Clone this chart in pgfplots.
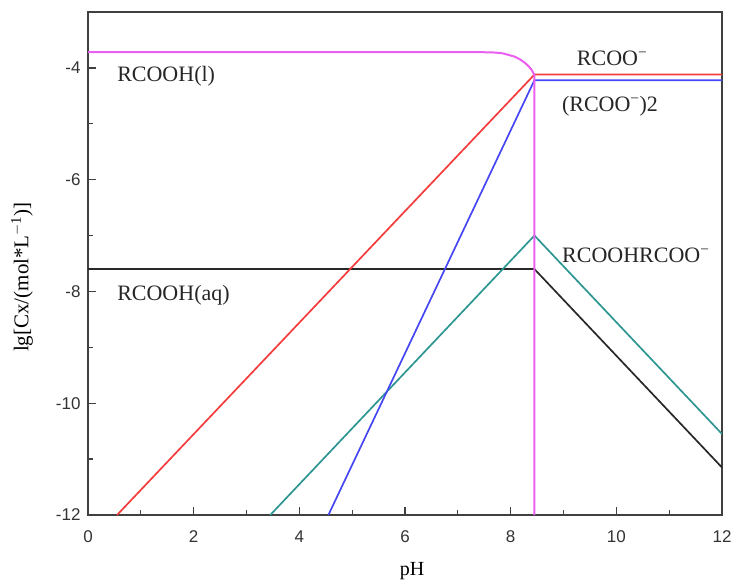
\documentclass[border=0pt]{standalone}
\usepackage{fontspec}
\setmainfont{Liberation Serif}
\newfontfamily\tickfont{Liberation Sans}
\usepackage{pgfplots}
\pgfplotsset{compat=1.18}
\definecolor{cred}{RGB}{245,60,60}
\definecolor{cblue}{RGB}{70,70,245}
\definecolor{cteal}{RGB}{45,150,145}
\definecolor{cblack}{RGB}{40,40,40}
\definecolor{cmag}{RGB}{235,95,240}
\begin{document}
\begin{tikzpicture}
\useasboundingbox (-88pt,-69pt) rectangle (643pt,515pt);
\begin{axis}[
  at={(0,0)}, anchor=south west,
  scale only axis, width=634pt, height=503pt,
  xmin=0, xmax=12, ymin=-12, ymax=-3,
  xtick={0,2,...,12}, ytick={-12,-10,-8,-6,-4},
  minor xtick={1,3,...,11}, minor ytick={-11,-9,-7,-5},
  tick pos=left, tick align=inside,
  major tick length=8pt, minor tick length=5pt,
  axis line style={draw=black!75, line width=1.3pt},
  every tick/.style={black!75, line width=1.3pt},
  ticklabel style={font=\tickfont\fontsize{17}{19}\selectfont, black!80},
  /pgf/number format/assume math mode=true,
  xticklabel style={yshift=-12pt},
  yticklabel style={xshift=-4pt},
  xlabel={pH}, ylabel={lg[Cx/(mol*L\textsuperscript{$-$1})]},
  xlabel style={font=\fontsize{20}{22}\selectfont, at={(axis description cs:0.511,0)}, anchor=center, yshift=-56pt},
  ylabel style={font=\fontsize{21}{24}\selectfont, at={(axis description cs:0,0.473)}, anchor=center, yshift=66pt},
  clip=true,
]
\addplot[cblack, line width=1.7pt] coordinates {(0,-7.6) (8.45,-7.6) (12,-11.15)};
\addplot[cteal, line width=1.7pt] coordinates {(3.45,-12) (8.45,-7.0) (12,-10.55)};
\addplot[cred, line width=1.7pt] coordinates {(0.55,-12) (8.45,-4.12) (12,-4.12)};
\addplot[cblue, line width=1.7pt] coordinates {(4.55,-12) (8.45,-4.22) (12,-4.22)};
\addplot[cmag, line width=2pt] coordinates {(0,-3.72) (7.5,-3.72) (7.7,-3.725) (7.85,-3.74) (7.97,-3.77) (8.08,-3.8) (8.18,-3.85) (8.27,-3.91) (8.34,-3.97) (8.4,-4.04) (8.45,-4.13) (8.45,-12)};
\node[anchor=west, font=\fontsize{22}{24}\selectfont, text=black!85, inner sep=0] at (axis cs:0.55,-4.14) {RCOOH(l)};
\node[anchor=west, font=\fontsize{22}{24}\selectfont, text=black!85, inner sep=0] at (axis cs:0.55,-8.06) {RCOOH(aq)};
\node[font=\fontsize{22}{24}\selectfont, text=black!85, inner sep=0] at (axis cs:9.92,-3.82) {RCOO\textsuperscript{−}};
\node[font=\fontsize{22}{24}\selectfont, text=black!85, inner sep=0] at (axis cs:9.88,-4.68) {(RCOO\textsuperscript{−})2};
\node[font=\fontsize{22}{24}\selectfont, text=black!85, inner sep=0] at (axis cs:10.37,-7.35) {RCOOHRCOO\textsuperscript{−}};
\end{axis}
\end{tikzpicture}
\end{document}
